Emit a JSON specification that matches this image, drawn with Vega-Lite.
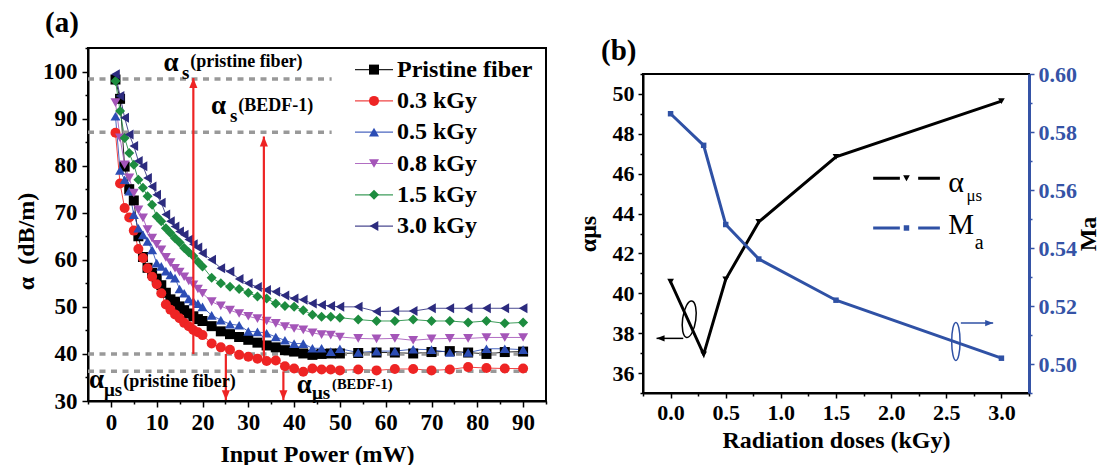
{
  "$schema": "https://vega.github.io/schema/vega-lite/v6.json",
  "background": "white",
  "padding": {"left": 13, "top": 8, "right": 0, "bottom": 0},
  "config": {
    "font": "Liberation Serif",
    "view": {"stroke": "black", "strokeWidth": 2},
    "axis": {"labelFont": "Liberation Serif", "titleFont": "Liberation Serif", "labelFontWeight": "bold", "titleFontWeight": "bold", "labelColor": "black", "titleColor": "black", "domainColor": "black", "tickColor": "black", "domainWidth": 2, "tickWidth": 1.5, "grid": false, "labelOverlap": false, "labelFlush": false},
    "title": {"font": "Liberation Serif", "fontWeight": "bold", "color": "black"}
  },
  "datasets": {
    "curves": [
      {"series":"Pristine fiber","power":1,"alpha":98.3},{"series":"Pristine fiber","power":2,"alpha":94.2},{"series":"Pristine fiber","power":3,"alpha":79.8},{"series":"Pristine fiber","power":4,"alpha":75.0},{"series":"Pristine fiber","power":5,"alpha":72.6},{"series":"Pristine fiber","power":6,"alpha":65.0},{"series":"Pristine fiber","power":7,"alpha":60.6},{"series":"Pristine fiber","power":8,"alpha":58.3},{"series":"Pristine fiber","power":9,"alpha":57.2},{"series":"Pristine fiber","power":10,"alpha":56.0},{"series":"Pristine fiber","power":11,"alpha":54.6},{"series":"Pristine fiber","power":12,"alpha":53.0},{"series":"Pristine fiber","power":13,"alpha":51.6},{"series":"Pristine fiber","power":14,"alpha":51.1},{"series":"Pristine fiber","power":15,"alpha":50.1},{"series":"Pristine fiber","power":16,"alpha":49.3},{"series":"Pristine fiber","power":17,"alpha":48.6},{"series":"Pristine fiber","power":18,"alpha":48.0},{"series":"Pristine fiber","power":19,"alpha":47.4},{"series":"Pristine fiber","power":20,"alpha":47.0},{"series":"Pristine fiber","power":22,"alpha":45.9},{"series":"Pristine fiber","power":24,"alpha":44.8},{"series":"Pristine fiber","power":26,"alpha":44.2},{"series":"Pristine fiber","power":28,"alpha":43.6},{"series":"Pristine fiber","power":30,"alpha":43.0},{"series":"Pristine fiber","power":32,"alpha":42.4},{"series":"Pristine fiber","power":34,"alpha":41.8},{"series":"Pristine fiber","power":36,"alpha":41.4},{"series":"Pristine fiber","power":38,"alpha":40.8},{"series":"Pristine fiber","power":40,"alpha":40.5},{"series":"Pristine fiber","power":42,"alpha":40.1},{"series":"Pristine fiber","power":44,"alpha":39.8},{"series":"Pristine fiber","power":46,"alpha":40.0},{"series":"Pristine fiber","power":48,"alpha":40.1},{"series":"Pristine fiber","power":50,"alpha":40.1},{"series":"Pristine fiber","power":54,"alpha":40.2},{"series":"Pristine fiber","power":58,"alpha":40.3},{"series":"Pristine fiber","power":62,"alpha":40.3},{"series":"Pristine fiber","power":66,"alpha":40.1},{"series":"Pristine fiber","power":70,"alpha":40.4},{"series":"Pristine fiber","power":74,"alpha":40.6},{"series":"Pristine fiber","power":78,"alpha":40.3},{"series":"Pristine fiber","power":82,"alpha":40.0},{"series":"Pristine fiber","power":86,"alpha":40.4},{"series":"Pristine fiber","power":90,"alpha":40.5},
      {"series":"0.3 kGy","power":1,"alpha":87.0},{"series":"0.3 kGy","power":2,"alpha":76.2},{"series":"0.3 kGy","power":3,"alpha":71.0},{"series":"0.3 kGy","power":4,"alpha":69.0},{"series":"0.3 kGy","power":5,"alpha":66.2},{"series":"0.3 kGy","power":6,"alpha":62.3},{"series":"0.3 kGy","power":7,"alpha":60.4},{"series":"0.3 kGy","power":8,"alpha":58.2},{"series":"0.3 kGy","power":9,"alpha":56.4},{"series":"0.3 kGy","power":10,"alpha":54.8},{"series":"0.3 kGy","power":11,"alpha":52.9},{"series":"0.3 kGy","power":12,"alpha":50.5},{"series":"0.3 kGy","power":13,"alpha":49.4},{"series":"0.3 kGy","power":14,"alpha":48.4},{"series":"0.3 kGy","power":15,"alpha":47.6},{"series":"0.3 kGy","power":16,"alpha":46.6},{"series":"0.3 kGy","power":17,"alpha":45.9},{"series":"0.3 kGy","power":18,"alpha":45.1},{"series":"0.3 kGy","power":19,"alpha":44.6},{"series":"0.3 kGy","power":20,"alpha":44.0},{"series":"0.3 kGy","power":22,"alpha":42.2},{"series":"0.3 kGy","power":24,"alpha":41.4},{"series":"0.3 kGy","power":26,"alpha":40.9},{"series":"0.3 kGy","power":28,"alpha":39.8},{"series":"0.3 kGy","power":30,"alpha":39.4},{"series":"0.3 kGy","power":32,"alpha":39.0},{"series":"0.3 kGy","power":34,"alpha":38.5},{"series":"0.3 kGy","power":36,"alpha":38.6},{"series":"0.3 kGy","power":38,"alpha":37.4},{"series":"0.3 kGy","power":40,"alpha":36.9},{"series":"0.3 kGy","power":42,"alpha":36.2},{"series":"0.3 kGy","power":44,"alpha":36.9},{"series":"0.3 kGy","power":46,"alpha":36.7},{"series":"0.3 kGy","power":48,"alpha":36.7},{"series":"0.3 kGy","power":50,"alpha":36.5},{"series":"0.3 kGy","power":54,"alpha":36.7},{"series":"0.3 kGy","power":58,"alpha":36.5},{"series":"0.3 kGy","power":62,"alpha":36.8},{"series":"0.3 kGy","power":66,"alpha":36.8},{"series":"0.3 kGy","power":70,"alpha":36.5},{"series":"0.3 kGy","power":74,"alpha":36.7},{"series":"0.3 kGy","power":78,"alpha":37.2},{"series":"0.3 kGy","power":82,"alpha":37.0},{"series":"0.3 kGy","power":86,"alpha":36.9},{"series":"0.3 kGy","power":90,"alpha":36.9},
      {"series":"0.5 kGy","power":1,"alpha":90.5},{"series":"0.5 kGy","power":2,"alpha":79.0},{"series":"0.5 kGy","power":3,"alpha":77.0},{"series":"0.5 kGy","power":4,"alpha":74.6},{"series":"0.5 kGy","power":5,"alpha":69.6},{"series":"0.5 kGy","power":6,"alpha":66.7},{"series":"0.5 kGy","power":7,"alpha":65.3},{"series":"0.5 kGy","power":8,"alpha":63.9},{"series":"0.5 kGy","power":9,"alpha":62.1},{"series":"0.5 kGy","power":10,"alpha":59.3},{"series":"0.5 kGy","power":11,"alpha":58.6},{"series":"0.5 kGy","power":12,"alpha":57.6},{"series":"0.5 kGy","power":13,"alpha":56.8},{"series":"0.5 kGy","power":14,"alpha":56.1},{"series":"0.5 kGy","power":15,"alpha":53.8},{"series":"0.5 kGy","power":16,"alpha":52.9},{"series":"0.5 kGy","power":17,"alpha":51.7},{"series":"0.5 kGy","power":18,"alpha":51.2},{"series":"0.5 kGy","power":19,"alpha":50.7},{"series":"0.5 kGy","power":20,"alpha":50.0},{"series":"0.5 kGy","power":22,"alpha":48.2},{"series":"0.5 kGy","power":24,"alpha":47.2},{"series":"0.5 kGy","power":26,"alpha":46.3},{"series":"0.5 kGy","power":28,"alpha":46.1},{"series":"0.5 kGy","power":30,"alpha":44.8},{"series":"0.5 kGy","power":32,"alpha":44.7},{"series":"0.5 kGy","power":34,"alpha":44.4},{"series":"0.5 kGy","power":36,"alpha":43.6},{"series":"0.5 kGy","power":38,"alpha":42.9},{"series":"0.5 kGy","power":40,"alpha":42.2},{"series":"0.5 kGy","power":42,"alpha":42.2},{"series":"0.5 kGy","power":44,"alpha":41.2},{"series":"0.5 kGy","power":46,"alpha":41.2},{"series":"0.5 kGy","power":48,"alpha":40.5},{"series":"0.5 kGy","power":50,"alpha":41.1},{"series":"0.5 kGy","power":54,"alpha":40.3},{"series":"0.5 kGy","power":58,"alpha":40.6},{"series":"0.5 kGy","power":62,"alpha":40.6},{"series":"0.5 kGy","power":66,"alpha":41.0},{"series":"0.5 kGy","power":70,"alpha":40.9},{"series":"0.5 kGy","power":74,"alpha":40.3},{"series":"0.5 kGy","power":78,"alpha":40.3},{"series":"0.5 kGy","power":82,"alpha":41.1},{"series":"0.5 kGy","power":86,"alpha":41.1},{"series":"0.5 kGy","power":90,"alpha":40.9},
      {"series":"0.8 kGy","power":1,"alpha":93.4},{"series":"0.8 kGy","power":2,"alpha":85.9},{"series":"0.8 kGy","power":3,"alpha":80.2},{"series":"0.8 kGy","power":4,"alpha":77.4},{"series":"0.8 kGy","power":5,"alpha":74.2},{"series":"0.8 kGy","power":6,"alpha":70.6},{"series":"0.8 kGy","power":7,"alpha":68.9},{"series":"0.8 kGy","power":8,"alpha":66.4},{"series":"0.8 kGy","power":9,"alpha":64.6},{"series":"0.8 kGy","power":10,"alpha":63.3},{"series":"0.8 kGy","power":11,"alpha":62.1},{"series":"0.8 kGy","power":12,"alpha":60.5},{"series":"0.8 kGy","power":13,"alpha":59.4},{"series":"0.8 kGy","power":14,"alpha":58.2},{"series":"0.8 kGy","power":15,"alpha":57.4},{"series":"0.8 kGy","power":16,"alpha":56.4},{"series":"0.8 kGy","power":17,"alpha":55.5},{"series":"0.8 kGy","power":18,"alpha":54.7},{"series":"0.8 kGy","power":19,"alpha":53.8},{"series":"0.8 kGy","power":20,"alpha":52.9},{"series":"0.8 kGy","power":22,"alpha":51.1},{"series":"0.8 kGy","power":24,"alpha":50.2},{"series":"0.8 kGy","power":26,"alpha":49.3},{"series":"0.8 kGy","power":28,"alpha":48.6},{"series":"0.8 kGy","power":30,"alpha":48.0},{"series":"0.8 kGy","power":32,"alpha":47.5},{"series":"0.8 kGy","power":34,"alpha":47.0},{"series":"0.8 kGy","power":36,"alpha":46.5},{"series":"0.8 kGy","power":38,"alpha":45.8},{"series":"0.8 kGy","power":40,"alpha":45.4},{"series":"0.8 kGy","power":42,"alpha":45.1},{"series":"0.8 kGy","power":44,"alpha":44.5},{"series":"0.8 kGy","power":46,"alpha":44.1},{"series":"0.8 kGy","power":48,"alpha":44.0},{"series":"0.8 kGy","power":50,"alpha":43.6},{"series":"0.8 kGy","power":54,"alpha":43.3},{"series":"0.8 kGy","power":58,"alpha":43.2},{"series":"0.8 kGy","power":62,"alpha":43.3},{"series":"0.8 kGy","power":66,"alpha":42.9},{"series":"0.8 kGy","power":70,"alpha":43.2},{"series":"0.8 kGy","power":74,"alpha":43.3},{"series":"0.8 kGy","power":78,"alpha":43.3},{"series":"0.8 kGy","power":82,"alpha":43.5},{"series":"0.8 kGy","power":86,"alpha":43.5},{"series":"0.8 kGy","power":90,"alpha":43.5},
      {"series":"1.5 kGy","power":1,"alpha":98.0},{"series":"1.5 kGy","power":2,"alpha":91.6},{"series":"1.5 kGy","power":3,"alpha":85.9},{"series":"1.5 kGy","power":4,"alpha":82.7},{"series":"1.5 kGy","power":5,"alpha":80.2},{"series":"1.5 kGy","power":6,"alpha":77.0},{"series":"1.5 kGy","power":7,"alpha":75.3},{"series":"1.5 kGy","power":8,"alpha":73.5},{"series":"1.5 kGy","power":9,"alpha":71.7},{"series":"1.5 kGy","power":10,"alpha":69.2},{"series":"1.5 kGy","power":11,"alpha":68.2},{"series":"1.5 kGy","power":12,"alpha":66.7},{"series":"1.5 kGy","power":13,"alpha":65.7},{"series":"1.5 kGy","power":14,"alpha":64.6},{"series":"1.5 kGy","power":15,"alpha":63.7},{"series":"1.5 kGy","power":16,"alpha":62.5},{"series":"1.5 kGy","power":17,"alpha":61.6},{"series":"1.5 kGy","power":18,"alpha":60.8},{"series":"1.5 kGy","power":19,"alpha":59.6},{"series":"1.5 kGy","power":20,"alpha":58.6},{"series":"1.5 kGy","power":22,"alpha":56.2},{"series":"1.5 kGy","power":24,"alpha":55.0},{"series":"1.5 kGy","power":26,"alpha":54.3},{"series":"1.5 kGy","power":28,"alpha":53.8},{"series":"1.5 kGy","power":30,"alpha":53.0},{"series":"1.5 kGy","power":32,"alpha":52.2},{"series":"1.5 kGy","power":34,"alpha":51.8},{"series":"1.5 kGy","power":36,"alpha":50.7},{"series":"1.5 kGy","power":38,"alpha":50.2},{"series":"1.5 kGy","power":40,"alpha":50.0},{"series":"1.5 kGy","power":42,"alpha":49.3},{"series":"1.5 kGy","power":44,"alpha":48.3},{"series":"1.5 kGy","power":46,"alpha":47.9},{"series":"1.5 kGy","power":48,"alpha":47.9},{"series":"1.5 kGy","power":50,"alpha":47.7},{"series":"1.5 kGy","power":54,"alpha":47.3},{"series":"1.5 kGy","power":58,"alpha":47.0},{"series":"1.5 kGy","power":62,"alpha":47.0},{"series":"1.5 kGy","power":66,"alpha":47.3},{"series":"1.5 kGy","power":70,"alpha":47.0},{"series":"1.5 kGy","power":74,"alpha":47.0},{"series":"1.5 kGy","power":78,"alpha":46.7},{"series":"1.5 kGy","power":82,"alpha":47.0},{"series":"1.5 kGy","power":86,"alpha":46.5},{"series":"1.5 kGy","power":90,"alpha":46.7},
      {"series":"3.0 kGy","power":1,"alpha":99.4},{"series":"3.0 kGy","power":2,"alpha":94.8},{"series":"3.0 kGy","power":3,"alpha":90.2},{"series":"3.0 kGy","power":4,"alpha":86.6},{"series":"3.0 kGy","power":5,"alpha":84.2},{"series":"3.0 kGy","power":6,"alpha":81.0},{"series":"3.0 kGy","power":7,"alpha":79.9},{"series":"3.0 kGy","power":8,"alpha":77.4},{"series":"3.0 kGy","power":9,"alpha":75.6},{"series":"3.0 kGy","power":10,"alpha":73.8},{"series":"3.0 kGy","power":11,"alpha":72.1},{"series":"3.0 kGy","power":12,"alpha":69.6},{"series":"3.0 kGy","power":13,"alpha":68.2},{"series":"3.0 kGy","power":14,"alpha":67.1},{"series":"3.0 kGy","power":15,"alpha":66.0},{"series":"3.0 kGy","power":16,"alpha":65.3},{"series":"3.0 kGy","power":17,"alpha":64.3},{"series":"3.0 kGy","power":18,"alpha":63.3},{"series":"3.0 kGy","power":19,"alpha":62.6},{"series":"3.0 kGy","power":20,"alpha":61.4},{"series":"3.0 kGy","power":22,"alpha":60.0},{"series":"3.0 kGy","power":24,"alpha":58.2},{"series":"3.0 kGy","power":26,"alpha":57.5},{"series":"3.0 kGy","power":28,"alpha":55.9},{"series":"3.0 kGy","power":30,"alpha":55.0},{"series":"3.0 kGy","power":32,"alpha":54.2},{"series":"3.0 kGy","power":34,"alpha":53.6},{"series":"3.0 kGy","power":36,"alpha":53.2},{"series":"3.0 kGy","power":38,"alpha":52.4},{"series":"3.0 kGy","power":40,"alpha":51.8},{"series":"3.0 kGy","power":42,"alpha":51.5},{"series":"3.0 kGy","power":44,"alpha":50.7},{"series":"3.0 kGy","power":46,"alpha":50.4},{"series":"3.0 kGy","power":48,"alpha":50.2},{"series":"3.0 kGy","power":50,"alpha":50.0},{"series":"3.0 kGy","power":54,"alpha":50.0},{"series":"3.0 kGy","power":58,"alpha":49.0},{"series":"3.0 kGy","power":62,"alpha":49.1},{"series":"3.0 kGy","power":66,"alpha":49.1},{"series":"3.0 kGy","power":70,"alpha":49.7},{"series":"3.0 kGy","power":74,"alpha":49.7},{"series":"3.0 kGy","power":78,"alpha":49.7},{"series":"3.0 kGy","power":82,"alpha":49.7},{"series":"3.0 kGy","power":86,"alpha":49.7},{"series":"3.0 kGy","power":90,"alpha":49.7}
    ],
    "levels": [
      {"power": -5, "power2": 48.2, "alpha": 98.4},
      {"power": -5, "power2": 48.2, "alpha": 87.1},
      {"power": -5, "power2": 90.8, "alpha": 40.0},
      {"power": -5, "power2": 90.8, "alpha": 36.3}
    ],
    "redArrows": [
      {"power": 18.0, "alpha": 40.0, "alpha2": 98.6, "dir": "up"},
      {"power": 33.4, "alpha": 38.3, "alpha2": 86.2, "dir": "up"},
      {"power": 25.1, "alpha": 40.0, "alpha2": 30.2, "dir": "down"},
      {"power": 37.66, "alpha": 36.3, "alpha2": 30.2, "dir": "down"}
    ],
    "notes": [
      {"kind": "alpha", "power": 11.46, "alpha": 101.8, "label": "α"},
      {"kind": "sub", "power": 15.5, "alpha": 99.7, "label": "s"},
      {"kind": "note", "power": 17.3, "alpha": 101.96, "label": "(pristine fiber)"},
      {"kind": "alpha", "power": 21.86, "alpha": 92.6, "label": "α"},
      {"kind": "sub", "power": 26.0, "alpha": 90.47, "label": "s"},
      {"kind": "note", "power": 27.8, "alpha": 92.6, "label": "(BEDF-1)"},
      {"kind": "alpha", "power": -4.8, "alpha": 34.45, "label": "α"},
      {"kind": "sub", "power": -1.5, "alpha": 32.3, "label": "μs"},
      {"kind": "note", "power": 2.7, "alpha": 34.1, "label": "(pristine fiber)"},
      {"kind": "alpha", "power": 40.57, "alpha": 33.4, "label": "α"},
      {"kind": "sub", "power": 43.9, "alpha": 31.6, "label": "μs"},
      {"kind": "small", "power": 48.3, "alpha": 33.4, "label": "(BEDF-1)"}
    ],
    "doseAlpha": [
      {"dose": 0, "alpha": 40.58}, {"dose": 0.3, "alpha": 36.94}, {"dose": 0.5, "alpha": 40.7},
      {"dose": 0.8, "alpha": 43.58}, {"dose": 1.5, "alpha": 46.84}, {"dose": 3.0, "alpha": 49.64}
    ],
    "doseMa": [
      {"dose": 0, "ma": 0.5863}, {"dose": 0.3, "ma": 0.5754}, {"dose": 0.5, "ma": 0.5481},
      {"dose": 0.8, "ma": 0.5362}, {"dose": 1.5, "ma": 0.522}, {"dose": 3.0, "ma": 0.502}
    ]
  },
  "resolve": {"legend": {"color": "independent", "shape": "independent", "stroke": "independent"}},
  "hconcat": [
    {
      "width": 458,
      "height": 353,
      "title": {"text": "(a)", "anchor": "start", "frame": "group", "dx": -43, "fontSize": 29, "offset": -20, "baseline": "bottom"},
      "resolve": {"axis": {"x": "independent", "y": "independent"}},
      "layer": [
        {
          "data": {"name": "curves"},
          "mark": {"type": "line", "strokeWidth": 1, "opacity": 0.85},
          "encoding": {
            "x": {"field": "power", "type": "quantitative", "scale": {"domain": [-5, 95], "nice": false, "zero": false},
              "axis": {"orient": "bottom", "title": "Input Power (mW)", "values": [0,10,20,30,40,50,60,70,80,90], "format": "d",
                "tickSize": 6, "labelFontSize": 23, "titleFontSize": 24, "labelPadding": 4, "titlePadding": 8}},
            "y": {"field": "alpha", "type": "quantitative", "scale": {"domain": [30, 105], "nice": false, "zero": false},
              "axis": {"orient": "left", "title": "α\u00a0\u00a0(dB/m)", "values": [30,40,50,60,70,80,90,100], "format": "d",
                "tickSize": 6, "labelFontSize": 23, "titleFontSize": 24, "labelPadding": 5, "titlePadding": 4, "titleY": 193}},
            "stroke": {"field": "series", "type": "nominal",
              "sort": ["Pristine fiber","0.3 kGy","0.5 kGy","0.8 kGy","1.5 kGy","3.0 kGy"],
              "scale": {"range": ["#000000","#ee2424","#2c4db5","#a455b8","#1d8c3f","#2c2b7e"]},
              "legend": {"orient": "none", "legendX": 274, "legendY": 9.6, "title": null, "padding": 0,
                "symbolType": "M-3.8,0H3.8", "symbolSize": 100, "symbolStrokeWidth": 1.2,
                "labelOpacity": 0, "labelFont": "Liberation Serif", "labelFontWeight": "bold", "labelFontSize": 24,
                "labelOffset": 11, "rowPadding": 7.3}}
          }
        },
        {
          "data": {"name": "levels"},
          "mark": {"type": "rule", "color": "#999999", "strokeWidth": 3.5, "strokeDash": [6, 5.5]},
          "encoding": {
            "x": {"field": "power", "type": "quantitative",
              "axis": {"orient": "bottom", "values": [-5,5,15,25,35,45,55,65,75,85,95], "labels": false, "domain": false, "title": null, "tickSize": 3}},
            "x2": {"field": "power2"},
            "y": {"field": "alpha", "type": "quantitative",
              "axis": {"orient": "left", "values": [35,45,55,65,75,85,95,105], "labels": false, "domain": false, "title": null, "tickSize": 3}}
          }
        },
        {
          "data": {"name": "curves"},
          "mark": {"type": "point", "filled": true, "opacity": 1, "size": 100},
          "encoding": {
            "x": {"field": "power", "type": "quantitative", "axis": null},
            "y": {"field": "alpha", "type": "quantitative", "axis": null},
            "color": {"field": "series", "type": "nominal",
              "scale": {"domain": ["Pristine fiber","0.3 kGy","0.5 kGy","0.8 kGy","1.5 kGy","3.0 kGy"], "range": ["#000000","#ee2424","#2c4db5","#a455b8","#1d8c3f","#2c2b7e"]},
              "legend": {"orient": "none", "legendX": 274, "legendY": 9.6, "title": null, "padding": 0,
                "symbolSize": 100, "symbolOpacity": 1,
                "labelFont": "Liberation Serif", "labelFontWeight": "bold", "labelFontSize": 24, "labelColor": "black",
                "labelOffset": 11, "rowPadding": 7.3}},
            "shape": {"field": "series", "type": "nominal",
              "scale": {"domain": ["Pristine fiber","0.3 kGy","0.5 kGy","0.8 kGy","1.5 kGy","3.0 kGy"], "range": ["square","circle","triangle-up","triangle-down","diamond","triangle-left"]},
              "legend": {"orient": "none", "legendX": 274, "legendY": 9.6, "title": null, "padding": 0,
                "symbolSize": 100, "symbolOpacity": 1,
                "labelFont": "Liberation Serif", "labelFontWeight": "bold", "labelFontSize": 24, "labelColor": "black",
                "labelOffset": 11, "rowPadding": 7.3}}
          }
        },
        {
          "data": {"name": "redArrows"},
          "mark": {"type": "rule", "color": "#ee2424", "strokeWidth": 2.2},
          "encoding": {
            "x": {"field": "power", "type": "quantitative", "axis": null},
            "y": {"field": "alpha", "type": "quantitative", "axis": null},
            "y2": {"field": "alpha2"}
          }
        },
        {
          "data": {"name": "redArrows"},
          "transform": [{"filter": "datum.dir === 'up'"}],
          "mark": {"type": "point", "filled": true, "color": "#ee2424", "opacity": 1, "size": 81, "shape": "M0,0L0.9,2.2L-0.9,2.2Z"},
          "encoding": {
            "x": {"field": "power", "type": "quantitative", "axis": null},
            "y": {"field": "alpha2", "type": "quantitative", "axis": null}
          }
        },
        {
          "data": {"name": "redArrows"},
          "transform": [{"filter": "datum.dir === 'down'"}],
          "mark": {"type": "point", "filled": true, "color": "#ee2424", "opacity": 1, "size": 81, "shape": "M0,0L0.9,-2.2L-0.9,-2.2Z"},
          "encoding": {
            "x": {"field": "power", "type": "quantitative", "axis": null},
            "y": {"field": "alpha2", "type": "quantitative", "axis": null}
          }
        },
        {
          "data": {"name": "notes"},
          "transform": [{"filter": "datum.kind === 'alpha'"}],
          "mark": {"type": "text", "align": "left", "baseline": "middle", "font": "Liberation Serif", "fontWeight": "bold", "fontSize": 27, "color": "black"},
          "encoding": {"x": {"field": "power", "type": "quantitative", "axis": null}, "y": {"field": "alpha", "type": "quantitative", "axis": null}, "text": {"field": "label"}}
        },
        {
          "data": {"name": "notes"},
          "transform": [{"filter": "datum.kind === 'sub'"}],
          "mark": {"type": "text", "align": "left", "baseline": "middle", "font": "Liberation Serif", "fontWeight": "bold", "fontSize": 19, "color": "black"},
          "encoding": {"x": {"field": "power", "type": "quantitative", "axis": null}, "y": {"field": "alpha", "type": "quantitative", "axis": null}, "text": {"field": "label"}}
        },
        {
          "data": {"name": "notes"},
          "transform": [{"filter": "datum.kind === 'note'"}],
          "mark": {"type": "text", "align": "left", "baseline": "middle", "font": "Liberation Serif", "fontWeight": "bold", "fontSize": 18, "color": "black"},
          "encoding": {"x": {"field": "power", "type": "quantitative", "axis": null}, "y": {"field": "alpha", "type": "quantitative", "axis": null}, "text": {"field": "label"}}
        },
        {
          "data": {"name": "notes"},
          "transform": [{"filter": "datum.kind === 'small'"}],
          "mark": {"type": "text", "align": "left", "baseline": "middle", "font": "Liberation Serif", "fontWeight": "bold", "fontSize": 14.5, "color": "black"},
          "encoding": {"x": {"field": "power", "type": "quantitative", "axis": null}, "y": {"field": "alpha", "type": "quantitative", "axis": null}, "text": {"field": "label"}}
        }
      ]
    },
    {
      "vconcat": [
        {
          "width": 386,
          "height": 26,
          "data": {"values": [{"label": ""}]},
          "mark": {"type": "text"},
          "encoding": {"text": {"field": "label"}},
          "view": {"stroke": null}
        },
        {
          "width": 386,
          "height": 319,
          "title": {"text": "(b)", "anchor": "start", "frame": "group", "dx": -42, "fontSize": 29, "offset": -31.5, "baseline": "bottom"},
          "resolve": {"scale": {"y": "independent"}, "axis": {"x": "independent"}},
          "layer": [
            {
              "resolve": {"axis": {"y": "independent"}},
              "layer": [
                {
                  "data": {"name": "doseAlpha"},
                  "mark": {"type": "line", "color": "black", "strokeWidth": 3},
                  "encoding": {
                    "x": {"field": "dose", "type": "quantitative", "scale": {"domain": [-0.25, 3.25], "nice": false, "zero": false},
                      "axis": {"orient": "bottom", "title": "Radiation doses (kGy)", "values": [0,0.5,1,1.5,2,2.5,3], "format": ".1f",
                        "tickSize": 5, "labelFontSize": 22, "titleFontSize": 24, "labelPadding": 4, "titlePadding": 5}},
                    "y": {"field": "alpha", "type": "quantitative", "scale": {"domain": [35, 51], "nice": false, "zero": false},
                      "axis": {"title": "αμs", "orient": "left", "values": [36,38,40,42,44,46,48,50], "format": "d",
                        "tickSize": 5, "labelFontSize": 22, "titleFontSize": 24, "labelPadding": 4, "titlePadding": 12}}
                  }
                },
                {
                  "data": {"name": "doseAlpha"},
                  "mark": {"type": "point", "shape": "triangle-down", "filled": true, "color": "black", "opacity": 1, "size": 45},
                  "encoding": {"x": {"field": "dose", "type": "quantitative"},
                    "y": {"field": "alpha", "type": "quantitative",
                      "axis": {"orient": "left", "values": [35,37,39,41,43,45,47,49,51], "labels": false, "domain": false, "title": null, "tickSize": 3}}}
                },
                {
                  "data": {"values": [{"dose": 0.169, "alpha": 38.7}]},
                  "mark": {"type": "point", "shape": "M0,-1A0.36,1 0 1,1 0,1A0.36,1 0 1,1 0,-1Z", "filled": false, "color": "black", "strokeWidth": 1.5, "size": 1347, "angle": 8, "opacity": 1},
                  "encoding": {"x": {"field": "dose", "type": "quantitative"}, "y": {"field": "alpha", "type": "quantitative", "axis": null}}
                },
                {
                  "data": {"values": [{"dose": 0.115, "dose2": -0.127, "alpha": 37.74}]},
                  "mark": {"type": "rule", "color": "black", "strokeWidth": 1.5},
                  "encoding": {"x": {"field": "dose", "type": "quantitative"}, "x2": {"field": "dose2"}, "y": {"field": "alpha", "type": "quantitative", "axis": null}}
                },
                {
                  "data": {"values": [{"dose": -0.127, "alpha": 37.74}]},
                  "mark": {"type": "point", "shape": "M0,0L2,-0.8L2,0.8Z", "filled": true, "color": "black", "size": 64, "opacity": 1},
                  "encoding": {"x": {"field": "dose", "type": "quantitative"}, "y": {"field": "alpha", "type": "quantitative", "axis": null}}
                },
                {
                  "data": {"values": [{"dose": 1.837, "dose2": 2.442, "alpha": 45.77}]},
                  "mark": {"type": "rule", "color": "black", "strokeWidth": 3, "strokeDash": [26.7, 18.3]},
                  "encoding": {"x": {"field": "dose", "type": "quantitative"}, "x2": {"field": "dose2"}, "y": {"field": "alpha", "type": "quantitative", "axis": null}}
                },
                {
                  "data": {"values": [{"dose": 2.139, "alpha": 45.77}]},
                  "mark": {"type": "point", "shape": "triangle-down", "filled": true, "color": "black", "opacity": 1, "size": 45},
                  "encoding": {"x": {"field": "dose", "type": "quantitative"}, "y": {"field": "alpha", "type": "quantitative", "axis": null}}
                },
                {
                  "data": {"values": [{"dose": 2.517, "alpha": 45.55, "label": "α"}]},
                  "mark": {"type": "text", "align": "left", "baseline": "middle", "font": "Liberation Serif", "fontSize": 30, "color": "black"},
                  "encoding": {"x": {"field": "dose", "type": "quantitative"}, "y": {"field": "alpha", "type": "quantitative", "axis": null}, "text": {"field": "label"}}
                },
                {
                  "data": {"values": [{"dose": 2.683, "alpha": 44.88, "label": "μs"}]},
                  "mark": {"type": "text", "align": "left", "baseline": "middle", "font": "Liberation Serif", "fontSize": 17, "color": "black"},
                  "encoding": {"x": {"field": "dose", "type": "quantitative"}, "y": {"field": "alpha", "type": "quantitative", "axis": null}, "text": {"field": "label"}}
                }
              ]
            },
            {
              "resolve": {"axis": {"y": "independent"}},
              "layer": [
                {
                  "data": {"name": "doseMa"},
                  "mark": {"type": "line", "color": "#2f51a5", "strokeWidth": 3},
                  "encoding": {
                    "x": {"field": "dose", "type": "quantitative",
                      "axis": {"orient": "bottom", "values": [-0.25,0.25,0.75,1.25,1.75,2.25,2.75,3.25], "labels": false, "domain": false, "title": null, "tickSize": 3}},
                    "y": {"field": "ma", "type": "quantitative", "scale": {"domain": [0.49, 0.6], "nice": false, "zero": false},
                      "axis": {"title": "Ma", "orient": "right", "titleAngle": -90, "values": [0.5,0.52,0.54,0.56,0.58,0.6], "format": ".2f",
                        "labelColor": "#3553a6", "tickColor": "#3553a6", "domainColor": "#3553a6", "domainWidth": 3,
                        "tickSize": 5, "labelFontSize": 22, "titleFontSize": 24, "labelPadding": 4, "titlePadding": 24}}
                  }
                },
                {
                  "data": {"name": "doseMa"},
                  "mark": {"type": "point", "shape": "square", "filled": true, "color": "#2f51a5", "opacity": 1, "size": 30},
                  "encoding": {"x": {"field": "dose", "type": "quantitative"},
                    "y": {"field": "ma", "type": "quantitative",
                      "axis": {"orient": "right", "values": [0.49,0.51,0.53,0.55,0.57,0.59], "labels": false, "domain": false, "title": null, "tickSize": 3, "tickColor": "#3553a6"}}}
                },
                {
                  "data": {"values": [{"dose": 2.587, "ma": 0.5078}]},
                  "mark": {"type": "point", "shape": "M0,-1A0.22,1 0 1,1 0,1A0.22,1 0 1,1 0,-1Z", "filled": false, "color": "#2f51a5", "strokeWidth": 1.5, "size": 1444, "opacity": 1},
                  "encoding": {"x": {"field": "dose", "type": "quantitative"}, "y": {"field": "ma", "type": "quantitative", "axis": null}}
                },
                {
                  "data": {"values": [{"dose": 2.632, "dose2": 2.925, "ma": 0.5141}]},
                  "mark": {"type": "rule", "color": "#2f51a5", "strokeWidth": 1.5},
                  "encoding": {"x": {"field": "dose", "type": "quantitative"}, "x2": {"field": "dose2"}, "y": {"field": "ma", "type": "quantitative", "axis": null}}
                },
                {
                  "data": {"values": [{"dose": 2.925, "ma": 0.5141}]},
                  "mark": {"type": "point", "shape": "M0,0L-2,-0.8L-2,0.8Z", "filled": true, "color": "#2f51a5", "size": 64, "opacity": 1},
                  "encoding": {"x": {"field": "dose", "type": "quantitative"}, "y": {"field": "ma", "type": "quantitative", "axis": null}}
                },
                {
                  "data": {"values": [{"dose": 1.837, "dose2": 2.442, "ma": 0.5469}]},
                  "mark": {"type": "rule", "color": "#2f51a5", "strokeWidth": 3, "strokeDash": [26.7, 18.3]},
                  "encoding": {"x": {"field": "dose", "type": "quantitative"}, "x2": {"field": "dose2"}, "y": {"field": "ma", "type": "quantitative", "axis": null}}
                },
                {
                  "data": {"values": [{"dose": 2.139, "ma": 0.5469}]},
                  "mark": {"type": "point", "shape": "square", "filled": true, "color": "#2f51a5", "opacity": 1, "size": 30},
                  "encoding": {"x": {"field": "dose", "type": "quantitative"}, "y": {"field": "ma", "type": "quantitative", "axis": null}}
                },
                {
                  "data": {"values": [{"dose": 2.517, "ma": 0.5481, "label": "M"}]},
                  "mark": {"type": "text", "align": "left", "baseline": "middle", "font": "Liberation Serif", "fontSize": 29, "color": "black"},
                  "encoding": {"x": {"field": "dose", "type": "quantitative"}, "y": {"field": "ma", "type": "quantitative", "axis": null}, "text": {"field": "label"}}
                },
                {
                  "data": {"values": [{"dose": 2.759, "ma": 0.5417, "label": "a"}]},
                  "mark": {"type": "text", "align": "left", "baseline": "middle", "font": "Liberation Serif", "fontSize": 20, "color": "black"},
                  "encoding": {"x": {"field": "dose", "type": "quantitative"}, "y": {"field": "ma", "type": "quantitative", "axis": null}, "text": {"field": "label"}}
                }
              ]
            }
          ]
        }
      ],
      "spacing": 0,
      "bounds": "flush"
    }
  ],
  "spacing": 27
}
